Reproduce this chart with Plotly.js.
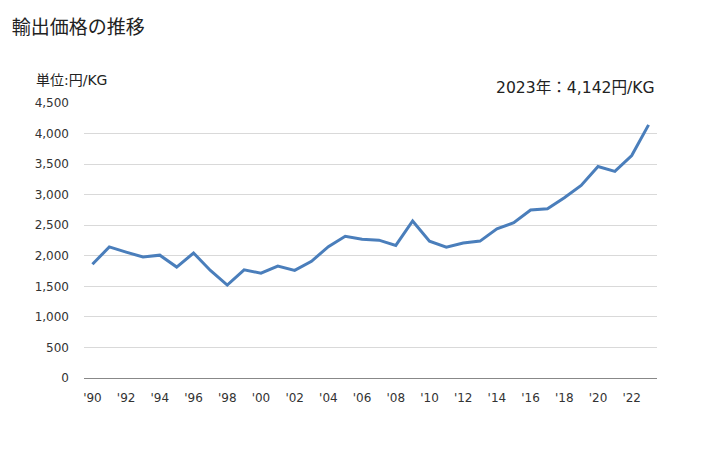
<!DOCTYPE html>
<html><head><meta charset="utf-8">
<script src="https://cdn.plot.ly/plotly-3.0.1.min.js"></script>
<style>html,body{margin:0;padding:0;background:#fff}#c{width:728px;height:450px}</style>
</head><body><div id="c"></div>
<script>
const years = [1990,1991,1992,1993,1994,1995,1996,1997,1998,1999,2000,2001,2002,2003,2004,2005,2006,2007,2008,2009,2010,2011,2012,2013,2014,2015,2016,2017,2018,2019,2020,2021,2022,2023];
const prices = [1860,2145,2060,1980,2010,1815,2045,1760,1520,1770,1715,1830,1760,1910,2150,2320,2270,2255,2170,2570,2240,2140,2210,2240,2440,2540,2750,2770,2950,3150,3460,3380,3640,4142];
const tickYears = [1990,1992,1994,1996,1998,2000,2002,2004,2006,2008,2010,2012,2014,2016,2018,2020,2022];
const tickLabels = ["'90","'92","'94","'96","'98","'00","'02","'04","'06","'08","'10","'12","'14","'16","'18","'20","'22"];
const yTicks = [0,500,1000,1500,2000,2500,3000,3500,4000,4500];
const font = "'DejaVu Sans', 'Noto Sans CJK JP', sans-serif";
const cjk = "'Noto Sans CJK JP', sans-serif";
Plotly.newPlot('c', [{
  x: years, y: prices, type: 'scatter', mode: 'lines',
  line: {color: '#4a7ebb', width: 3}, hoverinfo: 'skip'
}], {
  width: 728, height: 450,
  margin: {l: 84, r: 71, t: 103, b: 72},
  paper_bgcolor: '#fff', plot_bgcolor: '#fff',
  showlegend: false,
  font: {family: font, size: 12, color: '#333'},
  title: {text: '輸出価格の推移', x: 0.016, xanchor: 'left', y: 0.94, yanchor: 'middle', font: {family: cjk, size: 19, color: '#222'}},
  xaxis: {range: [1989.5, 2023.5], tickvals: tickYears, ticktext: tickLabels, showgrid: false, zeroline: false,
    showline: true, linecolor: '#888', linewidth: 1, ticks: '', ticklabelstandoff: 9, tickfont: {family: font, size: 12, color: '#333'}, fixedrange: true},
  yaxis: {range: [0, 4500], tickvals: yTicks, tickformat: ',d', showgrid: true, gridcolor: '#d9d9d9', gridwidth: 1,
    zeroline: false, showline: false, ticks: '', ticklabelstandoff: 14, tickfont: {family: font, size: 12, color: '#333'}, fixedrange: true},
  annotations: [
    {text: '単位:円/KG', xref: 'paper', yref: 'paper', x: -0.088, y: 1.084, xanchor: 'left', yanchor: 'middle', showarrow: false, font: {family: font, size: 14, color: '#222'}},
    {text: '2023年：4,142円/KG', xref: 'paper', yref: 'paper', x: 1, y: 1.055, xanchor: 'right', yanchor: 'middle', showarrow: false, font: {family: font, size: 15.6, color: '#222'}}
  ]
}, {staticPlot: true});
</script></body></html>
